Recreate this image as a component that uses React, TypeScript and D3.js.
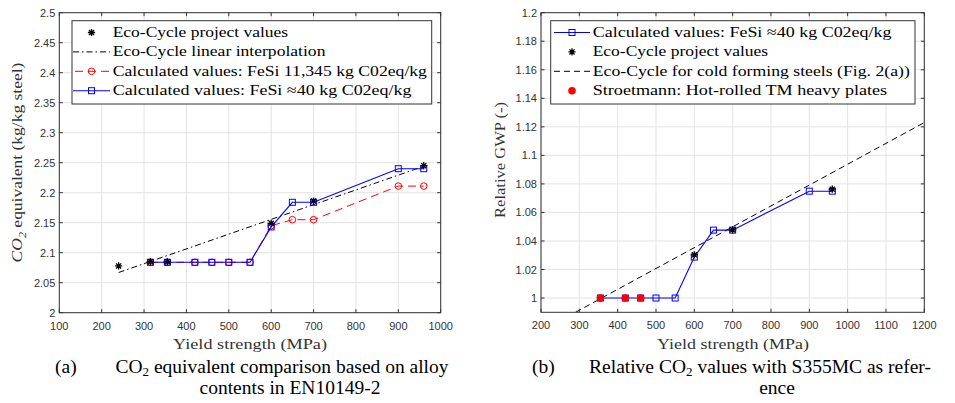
import React, { useLayoutEffect, useRef, useState } from "react";
import * as d3 from "d3";

// ---- data (a): CO2 equivalent vs yield strength
const ecoXA = [240, 315, 355, 600, 700, 960];
const ecoYA = [2.078, 2.085, 2.085, 2.149, 2.186, 2.245];
const interpXA = [240, 960];
const interpYA = [2.067, 2.244];
const feSiXA = [315, 355, 420, 460, 500, 550, 600, 650, 700, 900, 960];
const redYA = [2.084, 2.084, 2.084, 2.084, 2.084, 2.084, 2.145, 2.155, 2.155, 2.211, 2.211];
const blueYA = [2.084, 2.084, 2.084, 2.084, 2.084, 2.084, 2.143, 2.184, 2.184, 2.24, 2.24];
const xTicksA = [100, 200, 300, 400, 500, 600, 700, 800, 900, 1000];
const yTicksA = [2, 2.05, 2.1, 2.15, 2.2, 2.25, 2.3, 2.35, 2.4, 2.45, 2.5];

// ---- data (b): relative GWP
const blueXB = [355, 420, 460, 500, 550, 600, 650, 700, 900, 960];
const blueYB = [1, 1, 1, 1, 1, 1.0287, 1.0476, 1.0476, 1.0749, 1.0749];
const ecoXB = [600, 700, 960];
const ecoYB = [1.0303, 1.0478, 1.0763];
const coldXB = [290, 1200];
const coldYB = [0.99, 1.123];
const stroetXB = [355, 420, 460];
const stroetYB = [1, 1, 1];
const xTicksB = [200, 300, 400, 500, 600, 700, 800, 900, 1000, 1100, 1200];
const yTicksB = [1, 1.02, 1.04, 1.06, 1.08, 1.1, 1.12, 1.14, 1.16, 1.18, 1.2];

const serif = { fontFamily: '"Liberation Serif", "Times New Roman", serif' };
const sans = { fontFamily: '"Liberation Sans", Arial, sans-serif' };
const axisColor = "#333";

const zip = (xs: number[], ys: number[]) => xs.map((x, i) => [x, ys[i]] as [number, number]);
const fmt = (v: number) => String(+v.toFixed(2));

// LaTeX text is wider than Times: stretch the text horizontally to the width
const FitText = ({ x, y, width, size, fill = "#000", anchor = "start", rotate = 0, children }: any) => {
  const ref = useRef<SVGTextElement>(null);
  const [s, setS] = useState(1);
  useLayoutEffect(() => {
    if (ref.current) {
      const len = ref.current.getComputedTextLength();
      if (len > 0) setS(width / len);
    }
  }, [width]);
  return (
    <g transform={`translate(${x},${y}) rotate(${rotate}) scale(${s},1)`}>
      <text ref={ref} x={0} y={0} textAnchor={anchor} style={serif} fontSize={size} fill={fill}>
        {children}
      </text>
    </g>
  );
};

const Star = ({ x, y, r = 3.6 }: { x: number; y: number; r?: number }) => {
  const d = [0, 45, 90, 135]
    .map((a) => {
      const t = (a * Math.PI) / 180;
      const dx = r * Math.cos(t), dy = r * Math.sin(t);
      return `M${x - dx},${y - dy}L${x + dx},${y + dy}`;
    })
    .join("");
  return <path d={d} stroke="#000" strokeWidth={1.3} fill="none" />;
};

const Square = ({ x, y }: { x: number; y: number }) => (
  <rect x={x - 3} y={y - 3} width={6} height={6} fill="none" stroke="#0000ff" strokeWidth={1} />
);

const Circle = ({ x, y }: { x: number; y: number }) => (
  <circle cx={x} cy={y} r={3.3} fill="none" stroke="#ff0000" strokeWidth={1} />
);

type PanelProps = {
  id: string;
  x: d3.ScaleLinear<number, number>;
  y: d3.ScaleLinear<number, number>;
  xTicks: number[];
  yTicks: number[];
  children: React.ReactNode;
};

const Panel = ({ id, x, y, xTicks, yTicks, children }: PanelProps) => {
  const [x0, x1] = x.range();
  const [y0, y1] = y.range(); // y0 bottom, y1 top
  const tl = 3.5;
  return (
    <g>
      <defs>
        <clipPath id={id}>
          <rect x={x0} y={y1} width={x1 - x0} height={y0 - y1} />
        </clipPath>
      </defs>
      <rect x={x0} y={y1} width={x1 - x0} height={y0 - y1} fill="#fff" />
      {/* grid */}
      {xTicks.map((t) => (
        <line key={"gx" + t} x1={x(t)} x2={x(t)} y1={y0} y2={y1} stroke="#e3e3e3" strokeWidth={1} />
      ))}
      {yTicks.map((t) => (
        <line key={"gy" + t} x1={x0} x2={x1} y1={y(t)} y2={y(t)} stroke="#e3e3e3" strokeWidth={1} />
      ))}
      <g clipPath={`url(#${id})`}>{children}</g>
      {/* box + ticks */}
      <rect x={x0} y={y1} width={x1 - x0} height={y0 - y1} fill="none" stroke={axisColor} strokeWidth={1} />
      {xTicks.map((t) => (
        <g key={"tx" + t}>
          <line x1={x(t)} x2={x(t)} y1={y0} y2={y0 - tl} stroke={axisColor} />
          <line x1={x(t)} x2={x(t)} y1={y1} y2={y1 + tl} stroke={axisColor} />
          <text x={x(t)} y={y0 + 17} textAnchor="middle" style={sans} fontSize={11} fill={axisColor}>
            {fmt(t)}
          </text>
        </g>
      ))}
      {yTicks.map((t) => (
        <g key={"ty" + t}>
          <line x1={x0} x2={x0 + tl} y1={y(t)} y2={y(t)} stroke={axisColor} />
          <line x1={x1} x2={x1 - tl} y1={y(t)} y2={y(t)} stroke={axisColor} />
          <text x={x0 - 4} y={y(t) + 4} textAnchor="end" style={sans} fontSize={11} fill={axisColor}>
            {fmt(t)}
          </text>
        </g>
      ))}
    </g>
  );
};

const App = () => {
  const xA = d3.scaleLinear().domain([100, 1000]).range([59.3, 440.7]);
  const yA = d3.scaleLinear().domain([2, 2.5]).range([312.7, 12.7]);
  const xB = d3.scaleLinear().domain([200, 1200]).range([541, 924.3]);
  const yB = d3.scaleLinear().domain([0.99, 1.2]).range([312.3, 12.7]);

  const lineA = d3.line<[number, number]>().x((d) => xA(d[0])).y((d) => yA(d[1]));
  const lineB = d3.line<[number, number]>().x((d) => xB(d[0])).y((d) => yB(d[1]));

  const legY = (i: number) => 32.5 + i * 19.4;
  const legSize = 15;

  return (
    <svg width={955} height={403} style={{ position: "absolute", left: 0, top: 0, background: "#fff" }}>
      {/* ---------- panel (a) ---------- */}
      <Panel id="clipA" x={xA} y={yA} xTicks={xTicksA} yTicks={yTicksA}>
        <path d={lineA(zip(interpXA, interpYA)) || ""} fill="none" stroke="#000" strokeWidth={1} strokeDasharray="6,3,1.5,3" />
        <path d={lineA(zip(feSiXA, redYA)) || ""} fill="none" stroke="#ff0000" strokeWidth={1} strokeDasharray="8,5" />
        {zip(feSiXA, redYA).map((d, i) => (
          <Circle key={"c" + i} x={xA(d[0])} y={yA(d[1])} />
        ))}
        <path d={lineA(zip(feSiXA, blueYA)) || ""} fill="none" stroke="#0000ff" strokeWidth={1.1} />
        {zip(feSiXA, blueYA).map((d, i) => (
          <Square key={"s" + i} x={xA(d[0])} y={yA(d[1])} />
        ))}
        {zip(ecoXA, ecoYA).map((d, i) => (
          <Star key={"e" + i} x={xA(d[0])} y={yA(d[1])} />
        ))}
      </Panel>

      {/* legend (a) */}
      <rect x={72} y={20.7} width={359.7} height={83.3} fill="#fff" stroke={axisColor} strokeWidth={1} />
      <Star x={91.5} y={legY(0)} />
      <line x1={73} x2={110} y1={legY(1)} y2={legY(1)} stroke="#000" strokeDasharray="6,3,1.5,3" />
      <line x1={73} x2={110} y1={legY(2)} y2={legY(2)} stroke="#ff0000" strokeDasharray="8,5" strokeDashoffset={-2} />
      <Circle x={91.5} y={legY(2)} />
      <line x1={73} x2={110} y1={legY(3)} y2={legY(3)} stroke="#0000ff" strokeWidth={1.1} />
      <Square x={91.5} y={legY(3)} />
      <FitText x={112.7} y={legY(0) + 4.5} width={175.6} size={legSize}>Eco-Cycle project values</FitText>
      <FitText x={112.7} y={legY(1) + 4.5} width={213} size={legSize}>Eco-Cycle linear interpolation</FitText>
      <FitText x={112.7} y={legY(2) + 4.5} width={314.7} size={legSize}>Calculated values: FeSi 11,345 kg C02eq/kg</FitText>
      <FitText x={112.7} y={legY(3) + 4.5} width={299} size={legSize}>Calculated values: FeSi ≈40 kg C02eq/kg</FitText>

      {/* axis labels (a) */}
      <FitText x={250} y={349} width={154} size={14.5} fill={axisColor} anchor="middle">Yield strength (MPa)</FitText>
      <FitText x={22} y={162.5} width={200} size={15} fill={axisColor} anchor="middle" rotate={-90}>
        <tspan fontStyle="italic">CO</tspan>
        <tspan fontSize={10.5} dy={3.5} fontStyle="italic">2</tspan>
        <tspan dy={-3.5}> equivalent (kg/kg steel)</tspan>
      </FitText>

      {/* ---------- panel (b) ---------- */}
      <Panel id="clipB" x={xB} y={yB} xTicks={xTicksB} yTicks={yTicksB}>
        <path d={lineB(zip(coldXB, coldYB)) || ""} fill="none" stroke="#000" strokeWidth={1} strokeDasharray="6,4" />
        <path d={lineB(zip(blueXB, blueYB)) || ""} fill="none" stroke="#0000ff" strokeWidth={1.1} />
        {zip(blueXB, blueYB).map((d, i) => (
          <Square key={"sb" + i} x={xB(d[0])} y={yB(d[1])} />
        ))}
        {zip(stroetXB, stroetYB).map((d, i) => (
          <circle key={"r" + i} cx={xB(d[0])} cy={yB(d[1])} r={3.8} fill="#ff0000" />
        ))}
        {zip(ecoXB, ecoYB).map((d, i) => (
          <Star key={"eb" + i} x={xB(d[0])} y={yB(d[1])} />
        ))}
      </Panel>

      {/* legend (b) */}
      <rect x={550.7} y={20.7} width={364.3} height={83.3} fill="#fff" stroke={axisColor} strokeWidth={1} />
      <line x1={554} x2={590} y1={legY(0)} y2={legY(0)} stroke="#0000ff" strokeWidth={1.1} />
      <Square x={572} y={legY(0)} />
      <Star x={572} y={legY(1)} />
      <line x1={554} x2={590} y1={legY(2)} y2={legY(2)} stroke="#000" strokeDasharray="6,4" />
      <circle cx={572} cy={legY(3)} r={3.8} fill="#ff0000" />
      <FitText x={592.7} y={legY(0) + 4.5} width={299} size={legSize}>Calculated values: FeSi ≈40 kg C02eq/kg</FitText>
      <FitText x={592.7} y={legY(1) + 4.5} width={175.6} size={legSize}>Eco-Cycle project values</FitText>
      <FitText x={592.7} y={legY(2) + 4.5} width={317.3} size={legSize}>Eco-Cycle for cold forming steels (Fig. 2(a))</FitText>
      <FitText x={592.7} y={legY(3) + 4.5} width={294.7} size={legSize}>Stroetmann: Hot-rolled TM heavy plates</FitText>

      {/* axis labels (b) */}
      <FitText x={733} y={349} width={152} size={14.5} fill={axisColor} anchor="middle">Yield strength (MPa)</FitText>
      <FitText x={505} y={160} width={116} size={15} fill={axisColor} anchor="middle" rotate={-90}>Relative GWP (-)</FitText>

      {/* ---------- captions ---------- */}
      <g style={serif} fontSize={19.5} fill="#000">
        <text x={55} y={373}>(a)</text>
        <text x={282} y={373} textAnchor="middle">
          CO<tspan fontSize={13} dy={3}>2</tspan>
          <tspan dy={-3}> equivalent comparison based on alloy</tspan>
        </text>
        <text x={290} y={394} textAnchor="middle">contents in EN10149-2</text>

        <text x={532} y={373}>(b)</text>
        <text x={760} y={373} textAnchor="middle">
          Relative CO<tspan fontSize={13} dy={3}>2</tspan>
          <tspan dy={-3}> values with S355MC as refer-</tspan>
        </text>
        <text x={777} y={394} textAnchor="middle">ence</text>
      </g>
    </svg>
  );
};

export default App;
